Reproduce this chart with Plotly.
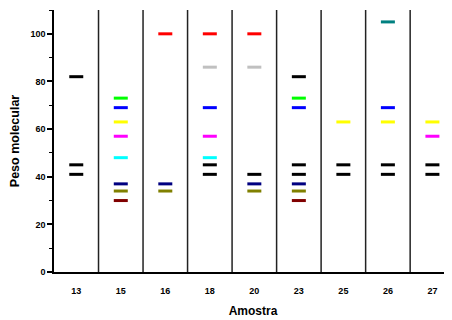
import plotly.graph_objects as go

samples = ["13", "15", "16", "18", "20", "23", "25", "26", "27"]

# bands per colour: sample labels and molecular weights
black_s = ["13", "13", "13", "18", "18", "20", "23", "23", "23", "25", "25", "26", "26", "27", "27"]
black_w = [82, 45, 41, 45, 41, 41, 82, 45, 41, 45, 41, 45, 41, 45, 41]
green_s = ["15", "23"]
green_w = [73, 73]
blue_s = ["15", "18", "23", "26"]
blue_w = [69, 69, 69, 69]
yellow_s = ["15", "25", "26", "27"]
yellow_w = [63, 63, 63, 63]
magenta_s = ["15", "18", "27"]
magenta_w = [57, 57, 57]
cyan_s = ["15", "18"]
cyan_w = [48, 48]
navy_s = ["15", "16", "20", "23"]
navy_w = [37, 37, 37, 37]
olive_s = ["15", "16", "20", "23"]
olive_w = [34, 34, 34, 34]
maroon_s = ["15", "23"]
maroon_w = [30, 30]
red_s = ["16", "18", "20"]
red_w = [100, 100, 100]
silver_s = ["18", "20"]
silver_w = [86, 86]
teal_s = ["26"]
teal_w = [105]

series = [
    (black_s, black_w, "#000000"),
    (green_s, green_w, "#00FF00"),
    (blue_s, blue_w, "#0000FF"),
    (yellow_s, yellow_w, "#FFFF00"),
    (magenta_s, magenta_w, "#FF00FF"),
    (cyan_s, cyan_w, "#00FFFF"),
    (navy_s, navy_w, "#000080"),
    (olive_s, olive_w, "#808000"),
    (maroon_s, maroon_w, "#800000"),
    (red_s, red_w, "#FF0000"),
    (silver_s, silver_w, "#C0C0C0"),
    (teal_s, teal_w, "#008080"),
]

fig = go.Figure()
for s, w, c in series:
    fig.add_trace(go.Scatter(
        x=[samples.index(v) for v in s], y=w, mode="markers",
        marker=dict(symbol="line-ew", size=10, color=c, line=dict(color=c, width=3)),
        showlegend=False, hoverinfo="y"))

# separators between samples
for i in range(len(samples) - 1):
    fig.add_shape(type="line", x0=i + 0.5, x1=i + 0.5, y0=0, y1=110,
                  xref="x", yref="y", line=dict(color="#222222", width=1.5))

fig.update_layout(
    width=444, height=312,
    margin=dict(l=46, r=0, t=2, b=48),
    paper_bgcolor="white", plot_bgcolor="white",
    font=dict(family="Liberation Sans, Arial", color="black"),
)
fig.update_xaxes(
    range=[-0.5, 8.44], tickvals=list(range(len(samples))), ticktext=samples,
    showgrid=False, zeroline=False, showline=True, linecolor="black", linewidth=1.5,
    ticks="", ticklabelstandoff=9, tickfont=dict(size=9, weight="bold"),
    title=dict(text="Amostra", font=dict(size=12, weight="bold"), standoff=12),
)
fig.update_yaxes(
    range=[0, 110], tickvals=[0, 20, 40, 60, 80, 100],
    showgrid=False, zeroline=False, showline=True, linecolor="black", linewidth=1.5,
    ticks="outside", ticklen=5, tickwidth=1.5, tickcolor="black",
    minor=dict(tickvals=[10, 30, 50, 70, 90, 110], ticks="outside", ticklen=3, tickwidth=1, tickcolor="black"),
    tickfont=dict(size=9, weight="bold"),
    title=dict(text="Peso molecular", font=dict(size=12.5, weight="bold"), standoff=10),
)

fig.write_html("out.html")
